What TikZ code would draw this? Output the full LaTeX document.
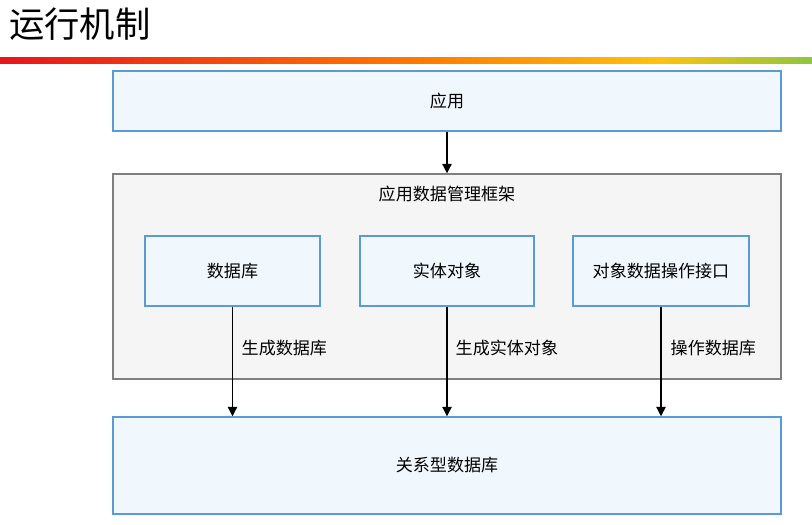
\documentclass[tikz,border=0pt]{standalone}
\usepackage{fontspec}
\setmainfont{Noto Sans CJK SC}
\usetikzlibrary{arrows.meta}
\definecolor{boxfill}{HTML}{F0F8FE}
\definecolor{boxline}{HTML}{5B9BD5}
\definecolor{frfill}{HTML}{F5F5F5}
\definecolor{frline}{HTML}{7F7F7F}
\definecolor{gred}{HTML}{E8141B}
\definecolor{gorange}{HTML}{FF7A00}
\definecolor{gyellow}{HTML}{FFC20E}
\definecolor{ggreen}{HTML}{8DC63F}
\tikzset{
  bluebox/.style={draw=boxline, fill=boxfill, line width=1.1pt, inner sep=0pt, font=\fontsize{12.8}{15}\selectfont},
  arr/.style={-{Triangle[length=7pt,width=7pt]}, line width=0.9pt, black},
  lab/.style={font=\fontsize{12.8}{15}\selectfont, anchor=west}
}
\begin{document}
\begin{tikzpicture}[x=0.75pt,y=-0.75pt]
\useasboundingbox (0,0) rectangle (812,524);
\fill[white] (0,0) rectangle (812,524);
% title
\node[anchor=west, font=\fontsize{26.5}{30}\selectfont, inner sep=0pt] (title) at (9,24) {运行机制};
% gradient bar
\shade[left color=gred, right color=gorange] (0,58) rectangle (420,64);
\shade[left color=gorange, right color=gyellow] (419.5,58) rectangle (660,64);
\shade[left color=gyellow, right color=ggreen] (659.5,58) rectangle (812,64);
% top box
\node[bluebox, minimum width=668*0.75pt, minimum height=60*0.75pt] (app) at (447,101) {应用};
% framework
\node[draw=frline, fill=frfill, line width=1.1pt, minimum width=668*0.75pt, minimum height=205*0.75pt, inner sep=0pt] (fw) at (447,276.5) {};
\node[font=\fontsize{12.8}{15}\selectfont] (fwt) at (447,194) {应用数据管理框架};
\node[bluebox, minimum width=175*0.75pt, minimum height=70*0.75pt] (db) at (232.5,271) {数据库};
\node[bluebox, minimum width=174*0.75pt, minimum height=70*0.75pt] (ent) at (447,271) {实体对象};
\node[bluebox, minimum width=176*0.75pt, minimum height=70*0.75pt] (api) at (661,271) {对象数据操作接口};
% bottom box
\node[bluebox, minimum width=668*0.75pt, minimum height=97*0.75pt] (rdb) at (447,465.5) {关系型数据库};
% arrows
\draw[arr] (app.south) -- (fw.north);
\coordinate (b1) at (db.south |- rdb.north);
\coordinate (b2) at (ent.south |- rdb.north);
\coordinate (b3) at (api.south |- rdb.north);
\draw[arr] (db.south) -- (b1);
\draw[arr] (ent.south) -- (b2);
\draw[arr] (api.south) -- (b3);
\node[lab] (l1) at (237,348) {生成数据库};
\node[lab] (l2) at (451,348) {生成实体对象};
\node[lab] (l3) at (666,348) {操作数据库};
\end{tikzpicture}
\end{document}
